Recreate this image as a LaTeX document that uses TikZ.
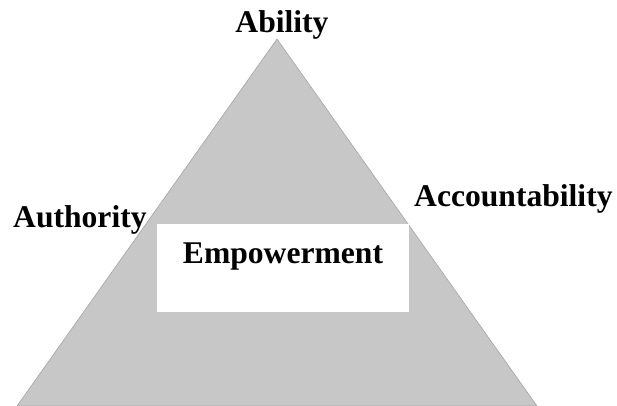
\documentclass[tikz,border=0pt]{standalone}
\usepackage{fontspec}
\setmainfont{Liberation Serif}
\definecolor{pyrfill}{RGB}{199,199,199}
\definecolor{pyredge}{RGB}{165,165,165}
\tikzset{lbl/.style={font=\fontsize{31.6}{36}\selectfont\bfseries, inner sep=0pt}}

\begin{document}
\begin{tikzpicture}[x=1pt,y=-1pt]
\useasboundingbox (0,0) rectangle (617,405);
\coordinate (top) at (277,39);
\coordinate (bl) at (17,406);
\coordinate (br) at (537,406);
\filldraw[fill=pyrfill, draw=pyredge, line width=0.6pt] (bl) -- (top) -- (br) -- cycle;
\fill[white] (157,224) rectangle (409,312);
\node[lbl, anchor=base] (abil) at (282,32) {Ability};
\node[lbl, anchor=base west] (auth) at (13,227) {Authority};
\node[lbl, anchor=base west] (acc) at (414,206) {Accountability};
\node[lbl, anchor=base] (emp) at (283,263) {Empowerment};
\end{tikzpicture}
\end{document}
